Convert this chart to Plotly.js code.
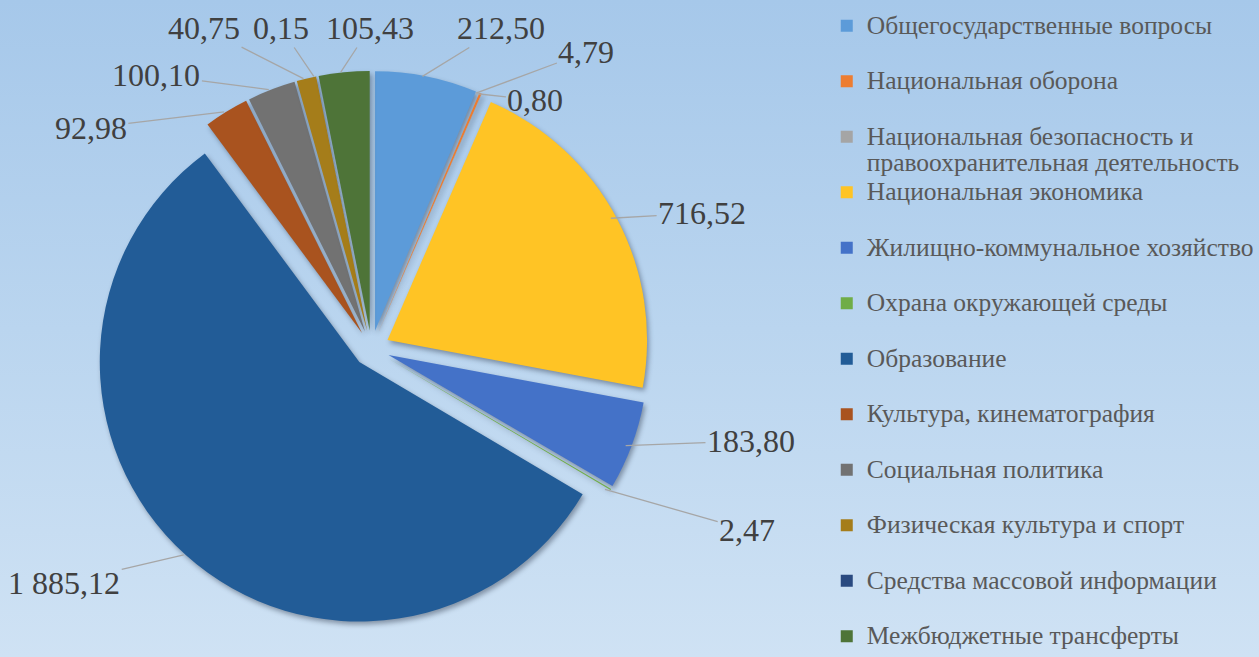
<!DOCTYPE html>
<html>
<head>
<meta charset="utf-8">
<script src="https://cdn.plot.ly/plotly-3.0.1.min.js"></script>
<style>
  html, body { margin: 0; padding: 0; }
  body {
    width: 1259px; height: 657px; overflow: hidden;
    background: linear-gradient(to bottom, #A6C8EA 0%, #BAD5EF 50%, #CFE2F4 100%);
  }
  #chart { width: 1259px; height: 657px; }
  #chart g.slice path.surface { filter: drop-shadow(2px 3px 2.5px rgba(40,50,70,0.45)); }
</style>
</head>
<body>
<div id="chart"></div>
<script>
// ---- data ----
const categories = [
  "Общегосударственные вопросы",
  "Национальная оборона",
  "Национальная безопасность и правоохранительная деятельность",
  "Национальная экономика",
  "Жилищно-коммунальное хозяйство",
  "Охрана окружающей среды",
  "Образование",
  "Культура, кинематография",
  "Социальная политика",
  "Физическая культура и спорт",
  "Средства массовой информации",
  "Межбюджетные трансферты"
];
const values = [212.50, 4.79, 0.80, 716.52, 183.80, 2.47, 1885.12, 92.98, 100.10, 40.75, 0.15, 105.43];

// ---- styles ----
const colors = [
  "#5C9BD9", "#ED7D31", "#A5A5A5", "#FFC425", "#4472C8", "#70AD47",
  "#225C97", "#A9531F", "#727272", "#A57D1A", "#2A4A80", "#4E7438"
];
// where each data label sits on the page (pixel centre of the label text)
const labelPlacement = [
  [505, 28], [591, 52], [540, 100], [708, 213], [757, 441], [753, 530],
  [66, 583], [93, 128], [159, 75], [207, 28], [284, 28], [373, 28]
];
const W = 1259, H = 657, TOP = 6;
const SERIF = "Liberation Serif, Times New Roman, serif";

function fmt(v) {
  const parts = v.toFixed(2).split(".");
  parts[0] = parts[0].replace(/\B(?=(\d{3})+(?!\d))/g, " ");
  return parts.join(",");
}

// legend labels: wrap long names, pad every entry to two lines
function wrap(name, maxLen) {
  const words = name.split(" ");
  const lines = [];
  let cur = "";
  words.forEach(w => {
    if (cur && (cur + " " + w).length > maxLen) { lines.push(cur); cur = w; }
    else { cur = cur ? cur + " " + w : w; }
  });
  if (cur) lines.push(cur);
  while (lines.length < 2) lines.push("\u00a0");
  return lines.map(l => '<span style="font-size:25.5px">' + l + '</span>').join("<br>");
}
const legendLabels = categories.map(c => wrap(c, 32));

const PULL = 0.07;
const trace = {
  type: "pie",
  labels: legendLabels,
  values: values,
  sort: false,
  direction: "clockwise",
  rotation: 0,
  pull: PULL,
  marker: { colors: colors, line: { width: 0 } },
  textinfo: "none",
  hoverinfo: "none",
  automargin: false,
  domain: { x: [0.0752, 0.5206], y: [0.0425, 0.9051] }
};

const layout = {
  width: W, height: H,
  margin: { l: 0, r: 0, t: TOP, b: 0 },
  paper_bgcolor: "rgba(0,0,0,0)",
  plot_bgcolor: "rgba(0,0,0,0)",
  showlegend: true,
  legend: {
    x: 0.663, y: 1.0, xanchor: "left", yanchor: "top",
    valign: "top",
    bgcolor: "rgba(0,0,0,0)",
    font: { family: SERIF, size: 20.2, color: "#595959" }
  }
};

const gd = document.getElementById("chart");
Plotly.newPlot(gd, [trace], layout, { displayModeBar: false, staticPlot: true }).then(() => {
  // data labels with leader lines, anchored on the slices as laid out by Plotly
  const cd = gd.calcdata[0];
  const cx = cd[0].cx, cy = cd[0].cy;
  const anns = cd.map((pt, i) => {
    const hx = cx + pt.pxmid[0] * (1 + PULL);
    const hy = cy + pt.pxmid[1] * (1 + PULL);
    const [lx, ly] = labelPlacement[i];
    return {
      xref: "paper", yref: "paper",
      x: hx / W, y: (H - hy) / (H - TOP),
      ax: lx - hx, ay: ly - hy,
      text: fmt(values[i]),
      showarrow: true, arrowhead: 0, arrowwidth: 1.3, arrowcolor: "#A6A6A6", standoff: 0,
      font: { family: SERIF, size: 32, color: "#404040" }
    };
  });
  return Plotly.relayout(gd, { annotations: anns });
});
</script>
</body>
</html>
